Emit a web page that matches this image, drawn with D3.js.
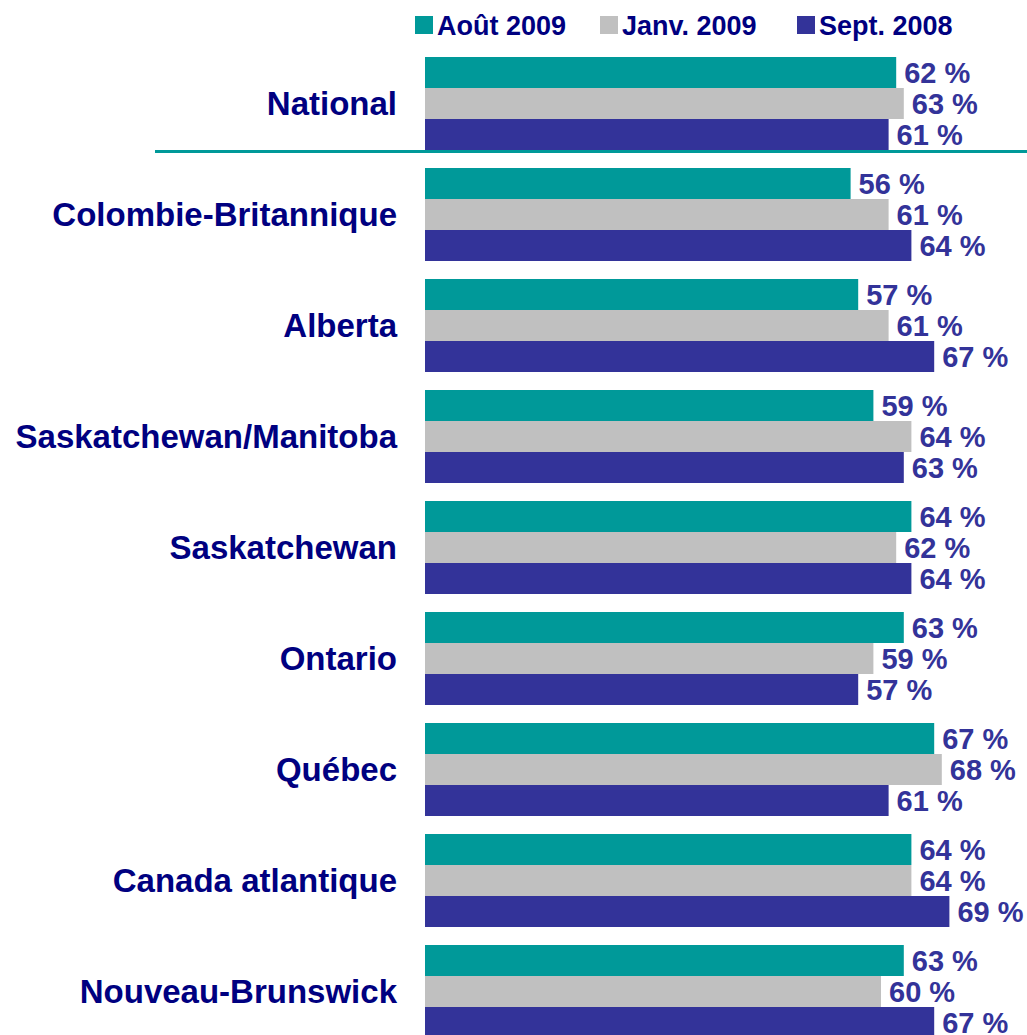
<!DOCTYPE html>
<html>
<head>
<meta charset="utf-8">
<script src="https://cdn.jsdelivr.net/npm/d3@7"></script>
<style>
  html, body { margin: 0; padding: 0; background: #fff; }
  #plot { width: 1027px; height: 1035px; overflow: hidden; }
</style>
</head>
<body>
<div id="plot"></div>
<script>
// Regions (top to bottom)
const regions = [
  'National', 'Colombie-Britannique', 'Alberta', 'Saskatchewan/Manitoba',
  'Saskatchewan', 'Ontario', 'Québec', 'Canada atlantique', 'Nouveau-Brunswick'
];
// Survey waves
const seriesNames = ['Août 2009', 'Janv. 2009', 'Sept. 2008'];
const seriesColors = ['#009999', '#c0c0c0', '#333399'];
// Values in %, one array per wave, same order as regions
const aout2009 = [62, 56, 57, 59, 64, 63, 67, 64, 63];
const janv2009 = [63, 61, 61, 64, 62, 59, 68, 64, 60];
const sept2008 = [61, 64, 67, 63, 64, 57, 61, 69, 67];
const seriesValues = [aout2009, janv2009, sept2008];

function drawChart() {
  const W = 1027, H = 1035;
  const svg = d3.select('#plot').append('svg')
    .attr('width', W).attr('height', H)
    .style('font-family', "Arial, 'Liberation Sans', sans-serif");

  const x = d3.scaleLinear().domain([0, 100]).range([425, 1185]);
  const y = d3.scaleBand().domain(regions).range([57, 1038]).paddingInner(18 / 111).paddingOuter(0);
  const ySub = d3.scaleBand().domain(seriesNames).range([0, y.bandwidth()]);

  const rows = regions.map((r, i) => ({
    region: r,
    values: seriesNames.map((s, j) => ({ series: s, idx: j, value: seriesValues[j][i] }))
  }));

  const groups = svg.append('g').selectAll('g.group')
    .data(rows).enter().append('g')
    .attr('class', 'group')
    .attr('transform', d => `translate(0,${y(d.region)})`);

  groups.selectAll('rect')
    .data(d => d.values).enter().append('rect')
    .attr('x', x(0))
    .attr('y', d => ySub(d.series))
    .attr('width', d => x(d.value) - x(0))
    .attr('height', ySub.bandwidth())
    .attr('fill', d => seriesColors[d.idx]);

  groups.selectAll('text.val')
    .data(d => d.values).enter().append('text')
    .attr('class', 'val')
    .attr('x', d => x(d.value) + 8)
    .attr('y', d => ySub(d.series) + ySub.bandwidth() / 2)
    .attr('dy', '0.36em')
    .attr('fill', '#333399')
    .style('font-size', '29px')
    .style('font-weight', 'bold')
    .text(d => `${d.value} %`);

  // category labels
  groups.append('text')
    .attr('x', 397)
    .attr('y', y.bandwidth() / 2)
    .attr('dy', '0.36em')
    .attr('text-anchor', 'end')
    .attr('fill', '#000080')
    .style('font-size', '33px')
    .style('font-weight', 'bold')
    .text(d => d.region);

  // separator under National
  const sepY = y('National') + y.bandwidth() + 1.5;
  svg.append('line')
    .attr('x1', 155).attr('x2', W)
    .attr('y1', sepY).attr('y2', sepY)
    .attr('stroke', '#009999').attr('stroke-width', 3);

  // legend
  const legendX = [415, 600, 797];
  const legend = svg.append('g').selectAll('g')
    .data(seriesNames).enter().append('g')
    .attr('transform', (d, i) => `translate(${legendX[i]},16)`);
  legend.append('rect')
    .attr('width', 18).attr('height', 18)
    .attr('fill', (d, i) => seriesColors[i]);
  legend.append('text')
    .attr('x', 22).attr('y', 9).attr('dy', '0.36em')
    .attr('fill', '#000080')
    .style('font-size', '27px')
    .style('font-weight', 'bold')
    .text(d => d);
}

drawChart();
</script>
</body>
</html>
